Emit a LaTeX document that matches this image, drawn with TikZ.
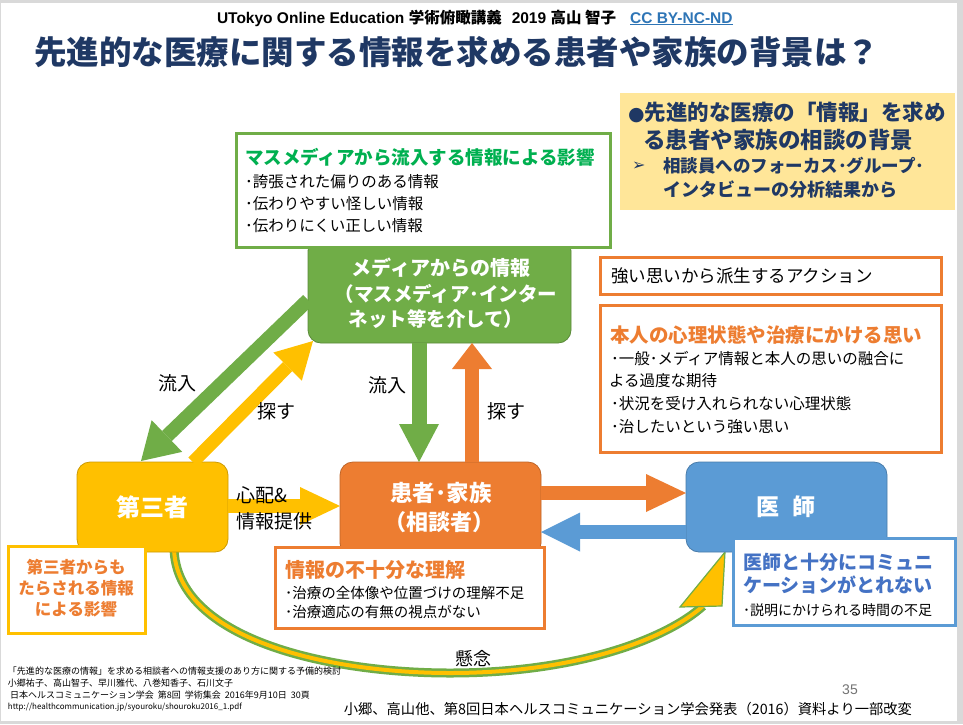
\documentclass[tikz,border=0pt]{standalone}
\usepackage{fontspec}
\setmainfont{Noto Sans CJK JP}
\newfontfamily\jpf{Noto Sans CJK JP}
\newfontfamily\arialf{Liberation Sans}
\newfontfamily\djf{DejaVu Sans}
\usetikzlibrary{arrows.meta}
\definecolor{cgreen}{HTML}{70AD47}
\definecolor{corange}{HTML}{ED7D31}
\definecolor{cyellow}{HTML}{FFC000}
\definecolor{cblue}{HTML}{5B9BD5}
\definecolor{cnavy}{HTML}{1F3864}
\definecolor{ctgreen}{HTML}{00B050}
\definecolor{cbluetxt}{HTML}{4472C4}
\definecolor{cpale}{HTML}{FFE699}
\definecolor{cframe}{HTML}{D9D9D9}
\definecolor{clink}{HTML}{2E75B6}
\newcommand{\tsz}[1]{\fontsize{#1}{#1}\selectfont}
\tikzset{
  txt/.style={anchor=west},
  ctxt/.style={anchor=center},
  obox/.style={draw=#1, line width=3pt, fill=white, anchor=north west},
  rbox/.style={fill=#1, draw=#1!80!black, line width=0.8pt, rounded corners=13pt, anchor=north west},
  blk/.style n args={4}{draw=#1, line width=#2, -{Triangle[width=#3, length=#4, line width=0pt]}},
}
\begin{document}
\begin{tikzpicture}[x=1pt,y=-1pt, every node/.style={inner sep=0pt, outer sep=0pt}]
% frame
\fill[cframe] (0,0) rectangle (963,724);
\fill[white] (1,3) rectangle (957,721);
\useasboundingbox (0,0) rectangle (963,724);

% curved arrow (concern)
\coordinate (cs) at (174,548);
\coordinate (ce) at (703,606);
\coordinate (ct) at (725,552);
\draw[cgreen, line width=9pt] (cs) .. controls (176,640) and (330,673) .. (450,673) .. controls (575,673) and (665,640) .. (ce);
\draw[cyellow, line width=4pt] (cs) .. controls (176,640) and (330,673) .. (450,673) .. controls (575,673) and (665,640) .. (ce);
\filldraw[fill=cyellow, draw=cgreen, line width=1.2pt, line join=miter] (ct) -- (680,607) -- (722,606) -- cycle;

% media boxes
\node[rbox=cgreen, minimum width=263pt, minimum height=105pt] (media) at (308,238) {};
\node[obox=cgreen, minimum width=374pt, minimum height=114pt] (mm) at (236,133) {};

% main actor boxes
\node[rbox=cyellow, minimum width=151pt, minimum height=90pt] (third) at (77,462) {};
\node[rbox=corange, minimum width=201pt, minimum height=94pt] (pat) at (340,462) {};
\node[rbox=cblue, minimum width=201pt, minimum height=90pt] (doc) at (686,462) {};

% annotation boxes
\node[obox=cyellow, minimum width=137pt, minimum height=87pt] (tinf) at (8,546) {};
\node[obox=corange, minimum width=269pt, minimum height=81pt] (info) at (275,547) {};
\node[obox=cblue, minimum width=222pt, minimum height=87pt] (dcom) at (733,538) {};
\node[obox=corange, minimum width=341pt, minimum height=37pt] (act) at (600,257) {};
\node[obox=corange, minimum width=341pt, minimum height=147pt] (mind) at (600,305) {};
\node[fill=cpale, minimum width=335pt, minimum height=117pt, anchor=north west] (bg) at (620,93) {};

% arrows
\coordinate (d1s) at (308,300);
\coordinate (d1e) at (141,461);
\coordinate (d2s) at (193,462);
\coordinate (d2e) at (313,341);
\coordinate (g1) at (419,0);
\coordinate (o1) at (472,0);
\coordinate (y5) at (0,506);
\coordinate (y6) at (0,493);
\coordinate (y7) at (0,532);
\draw[blk={cgreen}{14pt}{44pt}{36pt}] (d1s) -- (d1e);
\draw[blk={cyellow}{13pt}{40pt}{36pt}] (d2s) -- (d2e);
\draw[blk={cgreen}{15pt}{40pt}{38pt}] (media.south -| g1) -- (pat.north -| g1);
\draw[blk={corange}{14pt}{40pt}{26pt}] (pat.north -| o1) -- (media.south -| o1);
\draw[blk={cyellow}{14pt}{38pt}{40pt}] (third.east |- y5) -- (pat.west |- y5);
\draw[blk={corange}{14pt}{38pt}{40pt}] (pat.east |- y6) -- (doc.west |- y6);
\draw[blk={cblue}{14pt}{39pt}{39pt}] (doc.west |- y7) -- (pat.east |- y7);

% header and title
\node[txt] (hdr) at (217,18) {\arialf\bfseries\tsz{15.5}UTokyo Online Education {\jpf 学術俯瞰講義}\hspace{10pt}2019 {\jpf 高山 智子}\hspace{14pt}\textcolor{clink}{\underline{CC BY-NC-ND}}};
\node[txt, text=cnavy] (title) at (34,52) {\bfseries\tsz{32.5}先進的な医療に関する情報を求める患者や家族の背景は？};

% pale yellow box text
\node[txt, text=cnavy] (y1) at (628,112) {\bfseries\tsz{21.5}{\djf\tsz{19}●}先進的な医療の「情報」を求め};
\node[txt, text=cnavy] (y2) at (643,140) {\bfseries\tsz{22.5}る患者や家族の相談の背景};
\node[txt, text=cnavy] (y3a) at (632,166) {\djf\bfseries\tsz{16}➢};
\node[txt, text=cnavy] (y3) at (663,166) {\bfseries\tsz{17.5}相談員へのフォーカス･グループ･};
\node[txt, text=cnavy] (y4) at (663,190) {\bfseries\tsz{18}インタビューの分析結果から};

% mass media box text
\node[txt, text=ctgreen] (m0) at (245,157) {\bfseries\tsz{18.5}マスメディアから流入する情報による影響};
\node[txt] (m1) at (245,182) {\tsz{15.5}･誇張された偏りのある情報};
\node[txt] (m2) at (245,204) {\tsz{15.5}･伝わりやすい怪しい情報};
\node[txt] (m3) at (245,226) {\tsz{15.5}･伝わりにくい正しい情報};

% media node text
\node[ctxt, text=white] (md1) at (441,268) {\bfseries\tsz{20}メディアからの情報};
\node[ctxt, text=white] (md2) at (446,294) {\bfseries\tsz{19.5}（マスメディア･インター};
\node[ctxt, text=white] (md3) at (436,319) {\bfseries\tsz{19.5}ネット等を介して）};

% actor texts
\node[ctxt, text=white] (tt) at (152,507) {\bfseries\tsz{24}第三者};
\node[ctxt, text=white] (pt1) at (441,493) {\bfseries\tsz{22.5}患者･家族};
\node[ctxt, text=white] (pt2) at (439,522) {\bfseries\tsz{22}（相談者）};
\node[ctxt, text=white] (dt) at (786,507) {\bfseries\tsz{23}医\hspace{14pt}師};

% third-party influence
\node[ctxt, text=corange] (ti1) at (76,567) {\bfseries\tsz{16.5}第三者からも};
\node[ctxt, text=corange] (ti2) at (76,588) {\bfseries\tsz{16.5}たらされる情報};
\node[ctxt, text=corange] (ti3) at (76,609) {\bfseries\tsz{16.5}による影響};

% info box
\node[txt, text=corange] (i0) at (285,570) {\bfseries\tsz{20}情報の不十分な理解};
\node[txt] (i1) at (285,593) {\tsz{14.5}･治療の全体像や位置づけの理解不足};
\node[txt] (i2) at (285,612) {\tsz{14.5}･治療適応の有無の視点がない};

% doctor communication box
\node[txt, text=cbluetxt] (dc1) at (743,562) {\bfseries\tsz{19}医師と十分にコミュニ};
\node[txt, text=cbluetxt] (dc2) at (743,585) {\bfseries\tsz{19}ケーションがとれない};
\node[txt] (dc3) at (743,610) {\tsz{14}･説明にかけられる時間の不足};

% action boxes
\node[txt] (a0) at (611,276) {\tsz{17.5}強い思いから派生するアクション};
\node[txt, text=corange] (k0) at (610,335) {\bfseries\tsz{19.5}本人の心理状態や治療にかける思い};
\node[txt] (k1) at (611,359) {\tsz{15.5}･一般･メディア情報と本人の思いの融合に};
\node[txt] (k2) at (609,381) {\tsz{15.5}よる過度な期待};
\node[txt] (k3) at (611,404) {\tsz{15.5}･状況を受け入れられない心理状態};
\node[txt] (k4) at (611,427) {\tsz{15.5}･治したいという強い思い};

% arrow labels
\node[ctxt] (l1) at (177,383) {\tsz{19}流入};
\node[ctxt] (l2) at (276,411) {\tsz{19}探す};
\node[ctxt] (l3) at (387,385) {\tsz{19}流入};
\node[ctxt] (l4) at (506,411) {\tsz{19}探す};
\node[txt] (l5) at (236,495) {\tsz{19}心配\&};
\node[txt] (l6) at (236,521) {\tsz{19}情報提供};
\node[ctxt] (l7) at (473,659) {\tsz{18}懸念};

% citations
\node[txt] (c1) at (8,671) {\tsz{9}「先進的な医療の情報」を求める相談者への情報支援のあり方に関する予備的検討};
\node[txt] (c2) at (8,683) {\tsz{9}小郷祐子、高山智子、早川雅代、八巻知香子、石川文子};
\node[txt] (c3) at (8,695) {\tsz{9}\ 日本ヘルスコミュニケーション学会\ \ 第8回\ \ 学術集会\ \ 2016年9月10日\ \ 30頁};
\node[txt] (c4) at (8,707) {\tsz{8}http://healthcommunication.jp/syouroku/shouroku2016\_1.pdf};
\node[ctxt, text=black!55] (pg) at (850,690) {\arialf\tsz{14}35};
\node[anchor=east] (src) at (912,709) {\tsz{14.3}小郷、高山他、第8回日本ヘルスコミュニケーション学会発表（2016）資料より一部改変};
\end{tikzpicture}
\end{document}
